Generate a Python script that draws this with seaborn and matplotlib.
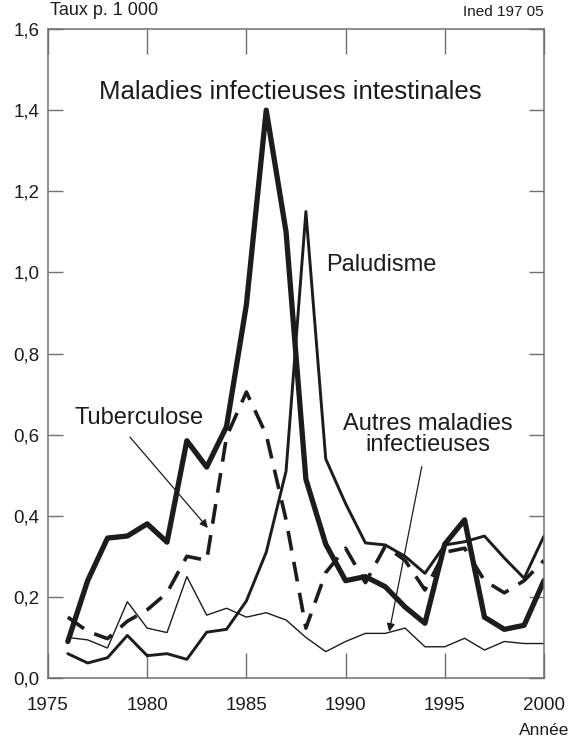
import matplotlib
matplotlib.use("Agg")
import matplotlib.pyplot as plt
import seaborn as sns
import pandas as pd

# data (taux pour 1 000)
years = list(range(1976, 2001))
intestinales = [0.09, 0.24, 0.345, 0.35, 0.38, 0.335, 0.585, 0.52, 0.62, 0.92,
                1.40, 1.10, 0.49, 0.33, 0.24, 0.25, 0.225, 0.175, 0.135, 0.33,
                0.39, 0.15, 0.12, 0.13, 0.24]
paludisme = [0.06, 0.037, 0.05, 0.105, 0.055, 0.06, 0.046, 0.113, 0.12, 0.19,
             0.31, 0.51, 1.15, 0.54, 0.43, 0.333, 0.328, 0.30, 0.258, 0.328,
             0.336, 0.35, 0.296, 0.246, 0.35]
tuberculose = [0.15, 0.115, 0.097, 0.14, 0.168, 0.21, 0.30, 0.29, 0.595, 0.705,
               0.60, 0.39, 0.123, 0.26, 0.32, 0.235, 0.325, 0.29, 0.217, 0.31,
               0.32, 0.24, 0.21, 0.24, 0.29]
autres = [0.10, 0.094, 0.074, 0.188, 0.123, 0.112, 0.25, 0.155, 0.172, 0.15,
          0.161, 0.143, 0.10, 0.065, 0.09, 0.11, 0.11, 0.123, 0.077, 0.077,
          0.098, 0.069, 0.09, 0.085, 0.085]

xticks = [1975, 1980, 1985, 1990, 1995, 2000]
xticklabels = ["1975", "1980", "1985", "1990", "1995", "2000"]
yticks = [0.0, 0.2, 0.4, 0.6, 0.8, 1.0, 1.2, 1.4, 1.6]
yticklabels = ["0,0", "0,2", "0,4", "0,6", "0,8", "1,0", "1,2", "1,4", "1,6"]

sns.set_style("white")
plt.rcParams['font.family'] = ['Liberation Sans', 'DejaVu Sans']

ink = "#1c1c1c"
frame = "#707070"

fig = plt.figure(figsize=(5.72, 7.44), dpi=100)
ax = fig.add_axes([0.0839, 0.0887, 0.8671, 0.8723])

df = pd.DataFrame({"year": years, "intest": intestinales, "palu": paludisme,
                   "tb": tuberculose, "autres": autres})

sns.lineplot(data=df, x="year", y="autres", ax=ax, color=ink, lw=1.0)
sns.lineplot(data=df, x="year", y="palu", ax=ax, color=ink, lw=2.1)
sns.lineplot(data=df, x="year", y="tb", ax=ax, color=ink, lw=2.6,
             dashes=False, linestyle=(0, (5.5, 3.2)))
sns.lineplot(data=df, x="year", y="intest", ax=ax, color=ink, lw=3.8)

ax.set_xlim(1975, 2000)
ax.set_ylim(0, 1.6)
ax.set_xticks(xticks)
ax.set_xticklabels(xticklabels)
ax.set_yticks(yticks)
ax.set_yticklabels(yticklabels)
ax.set_xlabel("")
ax.set_ylabel("")

ax.tick_params(axis="x", direction="in", length=18, width=1.0, color=frame,
               top=True, bottom=True, labelsize=13.5, labelcolor=ink, pad=14)
ax.tick_params(axis="y", direction="in", length=11, width=1.0, color=frame,
               left=True, right=True, labelsize=13.5, labelcolor=ink, pad=6)
for s in ax.spines.values():
    s.set_color(frame)
    s.set_linewidth(1.1)

# texts
ax.text(1975.1, 1.625, "Taux p. 1 000", fontsize=13, color=ink, ha="left", va="bottom")
ax.text(2000, 1.625, "Ined 197 05", fontsize=11, color=ink, ha="right", va="bottom")
ax.text(2000, -0.13, "Année", fontsize=12.5, color=ink, ha="center", va="center")

ax.text(1987.2, 1.445, "Maladies infectieuses intestinales", fontsize=18.5,
        color=ink, ha="center", va="center")
ax.text(1989.0, 1.018, "Paludisme", fontsize=17, color=ink, ha="left", va="center")
ax.text(1979.6, 0.641, "Tuberculose", fontsize=17, color=ink, ha="center", va="center")
ax.text(1994.15, 0.60, "Autres maladies\ninfectieuses", fontsize=17, color=ink,
        ha="center", va="center", linespacing=0.95)

arrow = dict(arrowstyle="-|>", color=ink, lw=0.9, mutation_scale=12,
             shrinkA=0, shrinkB=0)
ax.annotate("", xy=(1983.06, 0.37), xytext=(1979.13, 0.594), arrowprops=arrow)
ax.annotate("", xy=(1992.2, 0.114), xytext=(1993.84, 0.521), arrowprops=arrow)

fig.savefig("out.png", dpi=100)
